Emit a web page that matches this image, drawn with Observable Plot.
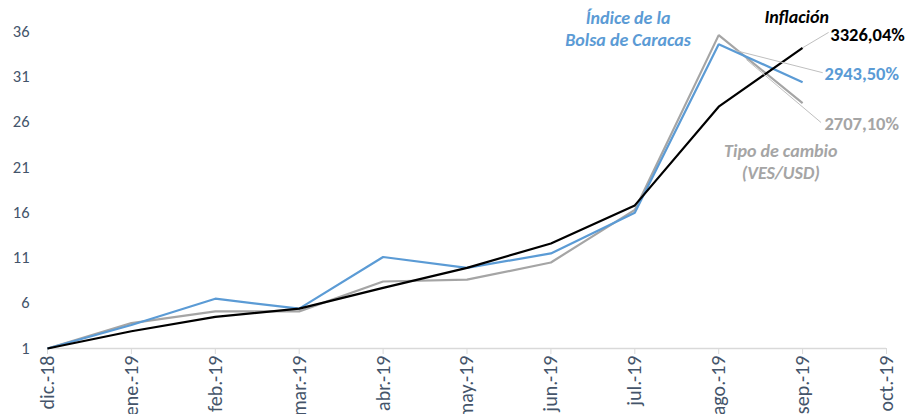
<!DOCTYPE html>
<html>
<head>
<meta charset="utf-8">
<script src="https://cdn.jsdelivr.net/npm/d3@7"></script>
<script src="https://cdn.jsdelivr.net/npm/@observablehq/plot@0.6"></script>
<style>
  html, body { margin: 0; padding: 0; background: #fff; }
  #chart { width: 912px; height: 414px; }
</style>
</head>
<body>
<div id="chart"></div>
<script>
const months = ["dic.-18","ene.-19","feb.-19","mar.-19","abr.-19","may.-19","jun.-19","jul.-19","ago.-19","sep.-19","oct.-19"];
const yTicks = [1, 6, 11, 16, 21, 26, 31, 36];
const bolsa     = [1, 3.6, 6.5, 5.4, 11.1, 9.9, 11.5, 16.0, 34.6, 30.4];
const cambio    = [1, 3.8, 5.1, 5.1, 8.4, 8.6, 10.5, 16.3, 35.6, 28.1];
const inflacion = [1, 2.9, 4.5, 5.4, 7.7, 9.9, 12.6, 16.8, 27.7, 34.2];
const endLabels = ["3326,04%", "2943,50%", "2707,10%"];

const blue = "#5b9bd5", gray = "#a5a5a5", black = "#000000";
const font = "Carlito, Lato, sans-serif";

const series = [
  {name: "Tipo de cambio", values: cambio, color: gray},
  {name: "Bolsa", values: bolsa, color: blue},
  {name: "Inflación", values: inflacion, color: black}
];
const rows = series.flatMap(s => s.values.map((v, i) => ({i, v, name: s.name})));

const leaders = [
  {x1: 9.31, y1: 35.9, x2: 9.0, y2: 34.2},
  {x1: 9.24, y1: 31.45, x2: 8.2, y2: 33.9},
  {x1: 9.22, y1: 25.95, x2: 8.33, y2: 32.9}
];
const valueLabels = [
  {x: 9.33, y: 35.55, text: endLabels[0], color: black},
  {x: 9.26, y: 31.25, text: endLabels[1], color: blue},
  {x: 9.26, y: 25.75, text: endLabels[2], color: gray}
];
const seriesLabels = [
  {x: 8.93, y: 37.55, text: "Inflación", color: black},
  {x: 6.92, y: 37.45, text: "Índice de la", color: blue},
  {x: 6.92, y: 35.0, text: "Bolsa de Caracas", color: blue},
  {x: 8.74, y: 22.75, text: "Tipo de cambio", color: gray},
  {x: 8.74, y: 20.32, text: "(VES/USD)", color: gray}
];

const chart = Plot.plot({
  width: 912,
  height: 414,
  marginLeft: 47,
  marginRight: 26,
  marginTop: 31,
  marginBottom: 66,
  style: {fontFamily: font, background: "#fff"},
  x: {domain: [0, 10]},
  y: {domain: [1, 36]},
  marks: [
    Plot.ruleY([1], {stroke: "#d9d9d9", strokeWidth: 1.3}),
    Plot.axisX({
      ticks: d3.range(0, 11), tickFormat: i => months[i], tickRotate: -90,
      tickSize: 6, stroke: "#d9d9d9", tickPadding: 1, fill: "#44546a",
      label: null, strokeOpacity: 1, fontSize: 20
    }),
    Plot.axisY({
      ticks: yTicks, tickSize: 0, tickPadding: 18, fill: "#44546a", label: null, fontSize: 16.5
    }),
    Plot.line(rows, {
      x: "i", y: "v", z: "name",
      stroke: d => series.find(s => s.name === d.name).color,
      strokeWidth: 2.2, strokeLinejoin: "miter", strokeLinecap: "butt"
    }),
    Plot.link(leaders, {x1: "x1", y1: "y1", x2: "x2", y2: "y2", stroke: "#bfbfbf", strokeWidth: 1}),
    Plot.text(valueLabels, {
      x: "x", y: "y", text: "text", fill: "color", textAnchor: "start",
      fontWeight: "bold", fontSize: 18.5
    }),
    Plot.text(seriesLabels, {
      x: "x", y: "y", text: "text", fill: "color", textAnchor: "middle",
      fontWeight: "bold", fontStyle: "italic", fontSize: 18
    })
  ]
});
document.getElementById("chart").appendChild(chart);
</script>
</body>
</html>
